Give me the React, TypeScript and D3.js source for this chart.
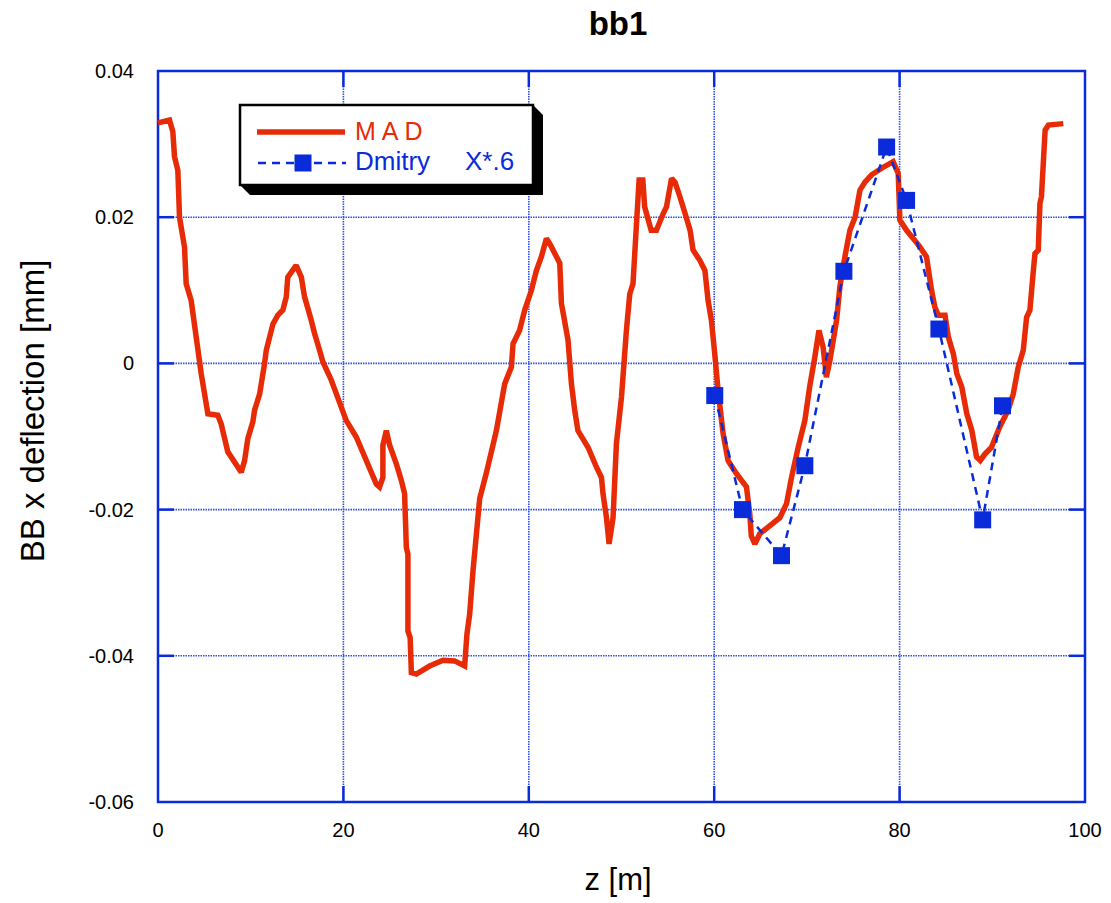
import { useEffect, useRef } from "react";
import * as d3 from "d3";

// MAD trace: z [m] and BB x deflection [mm]
const madZ = [
  0, 1.24, 1.6, 1.78, 2.14, 2.32, 2.86, 3.04, 3.58, 4.66, 5.38, 6.45, 6.82, 7.53, 8.98, 9.34, 9.69,
  10.23, 10.42, 10.96, 11.5, 11.68, 12.4, 12.93, 13.47, 13.84, 14.0, 14.9, 15.46, 15.81, 16.53, 16.89,
  17.43, 17.79, 18.7, 20.3, 21.4, 23.55, 23.9, 24.26, 24.26, 24.63, 24.99, 25.7, 26.25, 26.6, 26.79,
  26.96, 26.96, 27.2, 27.33, 27.87, 29.3, 30.74, 32.0, 33.08, 33.33, 33.62, 33.98, 34.7, 35.4, 36.5,
  37.4, 38.12, 38.3, 39.0, 39.56, 40.28, 40.82, 41.36, 41.9, 42.26, 43.34, 43.52, 44.23, 44.6, 44.95,
  45.3, 46.4, 47.3, 47.84, 48.0, 48.38, 48.66, 49.09, 49.45, 50.0, 50.53, 50.89, 51.24, 51.6, 51.9,
  52.3, 52.5, 53.2, 53.77, 54.5, 54.85, 55.4, 55.77, 56.3, 56.86, 57.4, 57.72, 58.45, 59.0, 59.34,
  59.7, 60.06, 60.42, 60.96, 61.5, 62.4, 63.48, 63.84, 64.0, 64.38, 64.92, 67.08, 67.8, 68.34, 69.06,
  69.78, 70.3, 70.86, 71.3, 71.75, 72.1, 72.48, 73.2, 73.56, 74.1, 74.64, 75.2, 75.72, 76.26, 76.98,
  78.06, 79.3, 79.85, 80.03, 80.75, 81.47, 82.2, 82.9, 83.45, 83.8, 84.17, 84.9, 85.26, 85.8, 86.17,
  86.7, 87.25, 87.8, 88.3, 88.7, 89.2, 89.9, 90.8, 91.7, 92.26, 92.8, 93.34, 93.7, 94.06, 94.4, 94.6,
  94.96, 95.14, 95.3, 95.7, 96.05, 97.66,
];
const madX = [
  0.0329, 0.0333, 0.0317, 0.0283, 0.0264, 0.02, 0.0159, 0.0109, 0.0086, -0.0014, -0.0069, -0.0071,
  -0.0083, -0.0121, -0.0149, -0.0133, -0.0103, -0.008, -0.0064, -0.0042, 0.0, 0.0018, 0.0054, 0.0066,
  0.0073, 0.0091, 0.0118, 0.0134, 0.0118, 0.0091, 0.0059, 0.0041, 0.0018, 0.0002, -0.0023, -0.0078,
  -0.0101, -0.0165, -0.0169, -0.0156, -0.0112, -0.0092, -0.0112, -0.0137, -0.016, -0.0178, -0.0252,
  -0.0261, -0.0366, -0.0375, -0.0423, -0.0425, -0.0414, -0.0406, -0.0407, -0.0414, -0.037, -0.0343,
  -0.0284, -0.0185, -0.0151, -0.0092, -0.0028, -0.0005, 0.0027, 0.0045, 0.0073, 0.01, 0.0127, 0.0146,
  0.0171, 0.0164, 0.0137, 0.0082, 0.0032, -0.0028, -0.0064, -0.0092, -0.0115, -0.0142, -0.0156,
  -0.0178, -0.0211, -0.0247, -0.0211, -0.011, -0.0046, 0.0045, 0.0095, 0.0109, 0.0187, 0.0251, 0.0251,
  0.0214, 0.0182, 0.0182, 0.0205, 0.0214, 0.0253, 0.0248, 0.0228, 0.0205, 0.0182, 0.0155, 0.0141,
  0.0127, 0.0086, 0.0059, 0.0013, -0.0037, -0.0096, -0.0133, -0.0151, -0.0169, -0.0206, -0.0236,
  -0.0247, -0.0233, -0.0211, -0.0192, -0.0156, -0.0115, -0.0078, -0.0032, 0.0009, 0.0045, 0.0022,
  -0.0019, 0.0004, 0.0059, 0.0105, 0.0146, 0.0182, 0.02, 0.0237, 0.0248, 0.0258, 0.0267, 0.0276,
  0.026, 0.0196, 0.0182, 0.0171, 0.0159, 0.0146, 0.01, 0.0077, 0.0066, 0.0066, 0.0036, 0.0013,
  -0.0014, -0.0032, -0.0069, -0.0092, -0.0128, -0.0133, -0.0124, -0.0115, -0.0087, -0.0064, -0.0042,
  -0.0005, 0.0018, 0.0063, 0.0073, 0.0123, 0.015, 0.0155, 0.0219, 0.0228, 0.0319, 0.0326, 0.0328,
];

// Dmitry points (X*.6)
const dmitryZ = [60.06, 63.05, 67.26, 69.78, 73.99, 78.6, 80.75, 84.24, 88.96, 91.1];
const dmitryX = [-0.0044, -0.02, -0.0263, -0.014, 0.0126, 0.0296, 0.0223, 0.0047, -0.0214, -0.0058];

const xTicks = [0, 20, 40, 60, 80, 100];
const yTicks = [-0.06, -0.04, -0.02, 0, 0.02, 0.04];
const yTickLabels = ["-0.06", "-0.04", "-0.02", "0", "0.02", "0.04"];

const RED = "#e62b06";
const BLUE = "#0a2bd9";
const FONT = "'Liberation Sans', Arial, Helvetica, sans-serif";

function renderChart(el: SVGSVGElement) {
  const W = 1111,
    H = 903;
  const left = 158,
    right = 1085,
    top = 71,
    bottom = 802;

  const svg = d3.select(el);
  svg.selectAll("*").remove();
  svg.attr("width", W).attr("height", H).style("font-family", FONT);

  svg.append("rect").attr("width", W).attr("height", H).attr("fill", "#fff");

  const x = d3.scaleLinear().domain([0, 100]).range([left, right]);
  const y = d3.scaleLinear().domain([-0.06, 0.04]).range([bottom, top]);

  // grid
  const grid = svg.append("g");
  grid
    .selectAll("line.gx")
    .data(xTicks.slice(1, -1))
    .join("line")
    .attr("x1", (d) => x(d))
    .attr("x2", (d) => x(d))
    .attr("y1", top)
    .attr("y2", bottom)
    .attr("stroke", "#2f4fe4")
    .attr("stroke-width", 1.6)
    .attr("stroke-dasharray", "1.5,1");
  grid
    .selectAll("line.gy")
    .data(yTicks.slice(1, -1))
    .join("line")
    .attr("x1", left)
    .attr("x2", right)
    .attr("y1", (d) => y(d))
    .attr("y2", (d) => y(d))
    .attr("stroke", "#2f4fe4")
    .attr("stroke-width", 1.6)
    .attr("stroke-dasharray", "1.5,1");

  // inner ticks
  const tl = 16;
  const ticks = svg.append("g").attr("stroke", BLUE).attr("stroke-width", 2.5);
  yTicks.slice(1, -1).forEach((d) => {
    ticks.append("line").attr("x1", left).attr("x2", left + tl).attr("y1", y(d)).attr("y2", y(d));
    ticks.append("line").attr("x1", right).attr("x2", right - tl).attr("y1", y(d)).attr("y2", y(d));
  });
  xTicks.slice(1, -1).forEach((d) => {
    ticks.append("line").attr("x1", x(d)).attr("x2", x(d)).attr("y1", bottom).attr("y2", bottom - tl);
    ticks.append("line").attr("x1", x(d)).attr("x2", x(d)).attr("y1", top).attr("y2", top + tl);
  });

  // frame
  svg
    .append("rect")
    .attr("x", left)
    .attr("y", top)
    .attr("width", right - left)
    .attr("height", bottom - top)
    .attr("fill", "none")
    .attr("stroke", BLUE)
    .attr("stroke-width", 2.5);

  // tick labels
  svg
    .append("g")
    .selectAll("text")
    .data(yTicks)
    .join("text")
    .attr("x", 134)
    .attr("y", (d) => y(d) + 7)
    .attr("text-anchor", "end")
    .attr("font-size", 20)
    .attr("fill", "#000")
    .text((_, i) => yTickLabels[i]);
  svg
    .append("g")
    .selectAll("text")
    .data(xTicks)
    .join("text")
    .attr("x", (d) => x(d))
    .attr("y", 837)
    .attr("text-anchor", "middle")
    .attr("font-size", 20)
    .attr("fill", "#000")
    .text((d) => String(d));

  // titles
  svg
    .append("text")
    .attr("x", 618)
    .attr("y", 35)
    .attr("text-anchor", "middle")
    .attr("font-size", 33)
    .attr("font-weight", "bold")
    .text("bb1");
  svg
    .append("text")
    .attr("x", 618)
    .attr("y", 890)
    .attr("text-anchor", "middle")
    .attr("font-size", 31)
    .text("z [m]");
  svg
    .append("text")
    .attr("transform", "translate(44,411) rotate(-90)")
    .attr("text-anchor", "middle")
    .attr("font-size", 33)
    .text("BB x deflection [mm]");

  // series
  const mad = madZ.map((z, i) => [z, madX[i]] as [number, number]);
  const dm = dmitryZ.map((z, i) => [z, dmitryX[i]] as [number, number]);
  const line = d3
    .line<[number, number]>()
    .x((d) => x(d[0]))
    .y((d) => y(d[1]));

  svg
    .append("path")
    .attr("d", line(mad))
    .attr("fill", "none")
    .attr("stroke", RED)
    .attr("stroke-width", 5.5)
    .attr("stroke-linejoin", "miter")
    .attr("stroke-miterlimit", 2);

  svg
    .append("path")
    .attr("d", line(dm))
    .attr("fill", "none")
    .attr("stroke", BLUE)
    .attr("stroke-width", 2.5)
    .attr("stroke-dasharray", "8,6");

  const sq = 17;
  svg
    .append("g")
    .selectAll("rect")
    .data(dm)
    .join("rect")
    .attr("x", (d) => x(d[0]) - sq / 2)
    .attr("y", (d) => y(d[1]) - sq / 2)
    .attr("width", sq)
    .attr("height", sq)
    .attr("fill", BLUE);

  // legend
  const lg = svg.append("g");
  const bx0 = 240,
    by0 = 105,
    bx1 = 533,
    by1 = 185,
    off = 10;
  lg.append("polygon")
    .attr(
      "points",
      [
        [bx1, by0],
        [bx1 + off, by0 + off],
        [bx1 + off, by1 + off],
        [bx0 + off, by1 + off],
        [bx0, by1],
      ]
        .map((p) => p.join(","))
        .join(" ")
    )
    .attr("fill", "#000");
  lg.append("rect")
    .attr("x", bx0)
    .attr("y", by0)
    .attr("width", bx1 - bx0)
    .attr("height", by1 - by0)
    .attr("fill", "#fff")
    .attr("stroke", "#000")
    .attr("stroke-width", 2.5);
  lg.append("line")
    .attr("x1", 257)
    .attr("x2", 345)
    .attr("y1", 132)
    .attr("y2", 132)
    .attr("stroke", RED)
    .attr("stroke-width", 5.5);
  lg.append("text")
    .attr("x", 355)
    .attr("y", 140)
    .attr("font-size", 25)
    .attr("letter-spacing", 6)
    .attr("fill", RED)
    .text("MAD");
  lg.append("line")
    .attr("x1", 258)
    .attr("x2", 346)
    .attr("y1", 163)
    .attr("y2", 163)
    .attr("stroke", BLUE)
    .attr("stroke-width", 2.5)
    .attr("stroke-dasharray", "8,6");
  lg.append("rect")
    .attr("x", 303 - sq / 2)
    .attr("y", 163 - sq / 2)
    .attr("width", sq)
    .attr("height", sq)
    .attr("fill", BLUE);
  lg.append("text")
    .attr("x", 355)
    .attr("y", 170)
    .attr("font-size", 26)
    .attr("fill", BLUE)
    .text("Dmitry");
  lg.append("text")
    .attr("x", 465)
    .attr("y", 170)
    .attr("font-size", 26)
    .attr("fill", BLUE)
    .text("X*.6");
}

export default function App() {
  const ref = useRef<SVGSVGElement | null>(null);
  useEffect(() => {
    if (ref.current) renderChart(ref.current);
  }, []);
  return (
    <svg
      ref={ref}
      style={{ position: "absolute", left: 0, top: 0, display: "block" }}
    />
  );
}
